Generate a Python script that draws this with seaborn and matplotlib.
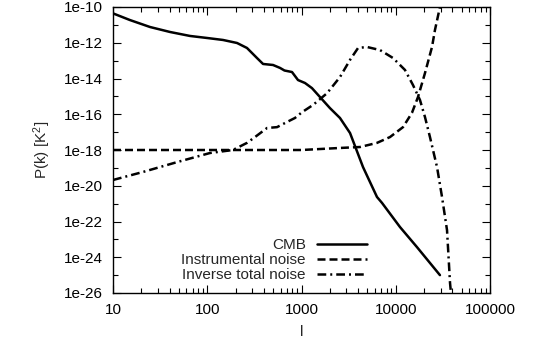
import numpy as np
import pandas as pd
import matplotlib
matplotlib.use("Agg")
import matplotlib.pyplot as plt
import seaborn as sns
from matplotlib.ticker import FixedLocator, NullFormatter

# ---- data ----
cmb_l = [10, 15.1, 24.7, 40.3, 65.6, 99.4, 147, 207, 264, 337, 391, 499, 592, 660,
         793, 918, 1089, 1291, 1570, 2005, 2559, 3273, 4498, 6324, 7145, 11090,
         16790, 29440]
cmb_p = [4.4e-11, 1.87e-11, 7.6e-12, 4.0e-12, 2.4e-12, 1.85e-12, 1.43e-12, 9.7e-13,
         5.1e-13, 1.4e-13, 6.5e-14, 5.7e-14, 3.9e-14, 2.8e-14, 2.3e-14, 8.2e-15,
         5.6e-15, 2.9e-15, 9.2e-16, 2.2e-16, 6.2e-17, 8.9e-18, 1.1e-19, 2.35e-21,
         1.1e-21, 4.9e-23, 3.7e-24, 1.0e-25]

noise_l = [10, 100, 1000, 2559, 4178, 6324, 8690, 11940, 14860, 17220, 20420,
           24250, 26070, 29440, 30800]
noise_p = [1e-18, 1e-18, 1.0e-18, 1.3e-18, 1.47e-18, 2.5e-18, 5.3e-18, 1.9e-17,
           1.2e-16, 9.2e-16, 2.0e-14, 5.8e-13, 5.2e-12, 1e-10, 3e-10]

inv_l = [10, 20.8, 47.8, 107, 187, 264, 321, 431, 550, 702, 853, 1012, 1324, 1866,
         2559, 3273, 3981, 4955, 6808, 9354, 12530, 15240, 18070, 20420, 23070,
         27420, 30970, 34990, 37670, 39000]
inv_p = [2.1e-20, 5.9e-20, 2.1e-19, 6.8e-19, 1.0e-18, 2.5e-18, 5.3e-18, 1.7e-17,
         1.9e-17, 3.7e-17, 6.2e-17, 1.3e-16, 3.3e-16, 1.5e-15, 1.2e-14, 1.1e-13,
         5.1e-13, 5.8e-13, 3.9e-13, 1.4e-13, 3.0e-14, 4.3e-15, 6.3e-16, 7.0e-17,
         5.3e-18, 1.1e-19, 2.35e-21, 3.3e-23, 3.6e-26, 5e-27]

labels = ["CMB", "Instrumental noise", "Inverse total noise"]
xticks = [10, 100, 1000, 10000, 100000]
xtick_labels = ["10", "100", "1000", "10000", "100000"]
yticks = [1e-26, 1e-24, 1e-22, 1e-20, 1e-18, 1e-16, 1e-14, 1e-12, 1e-10]
ytick_labels = ["1e-26", "1e-24", "1e-22", "1e-20", "1e-18", "1e-16", "1e-14",
                "1e-12", "1e-10"]

# ---- style ----
sns.set_style("ticks")
plt.rcParams["font.family"] = ["Liberation Sans", "DejaVu Sans"]
plt.rcParams["mathtext.fontset"] = "custom"
plt.rcParams["mathtext.rm"] = "Liberation Sans"
plt.rcParams["mathtext.it"] = "Liberation Sans:italic"

fig = plt.figure(figsize=(5.37, 3.47), dpi=100)
ax = fig.add_axes([113 / 537, 1 - 293 / 347, 377 / 537, 286 / 347])

styles = [
    dict(linestyle="-"),
    dict(linestyle=(0, (3.2, 1.6))),
    dict(linestyle=(0, (3.5, 1.6, 0.8, 1.6))),
]
series = [(cmb_l, cmb_p), (noise_l, noise_p), (inv_l, inv_p)]
for (lx, py), lab, st in zip(series, labels, styles):
    df = pd.DataFrame({"l": lx, "P": py})
    sns.lineplot(data=df, x="l", y="P", ax=ax, color="black", lw=1.8,
                 estimator=None, sort=False, label=lab, **st)

ax.set_xscale("log")
ax.set_yscale("log")
ax.set_xlim(10, 100000)
ax.set_ylim(1e-26, 1e-10)

ax.xaxis.set_major_locator(FixedLocator(xticks))
ax.set_xticklabels(xtick_labels)
minor_x = [m * 10 ** e for e in range(1, 5) for m in range(2, 10)]
ax.xaxis.set_minor_locator(FixedLocator(minor_x))
ax.xaxis.set_minor_formatter(NullFormatter())

ax.yaxis.set_major_locator(FixedLocator(yticks))
ax.set_yticklabels(ytick_labels)
ax.yaxis.set_minor_locator(FixedLocator([10.0 ** e for e in range(-25, -10, 2)]))
ax.yaxis.set_minor_formatter(NullFormatter())

ax.tick_params(which="both", direction="in", top=True, right=True, width=0.8,
               colors="black", labelsize=11, pad=7)
ax.tick_params(which="major", length=6)
ax.tick_params(which="minor", length=3.5)
for s in ax.spines.values():
    s.set_linewidth(1.0)
    s.set_color("black")
    s.set_visible(True)

ax.set_xlabel("l", fontsize=11, labelpad=6)
ax.set_ylabel(r"P(k) [K$^{2}$]", fontsize=11, labelpad=8)

ax.legend(loc="upper right", bbox_to_anchor=((367 - 113) / 377, (293 - 238) / 286),
          frameon=False, markerfirst=False, fontsize=11, handlelength=3.3,
          handletextpad=0.7, labelspacing=0.08, borderpad=0, borderaxespad=0)

fig.savefig("out.png", dpi=100)
